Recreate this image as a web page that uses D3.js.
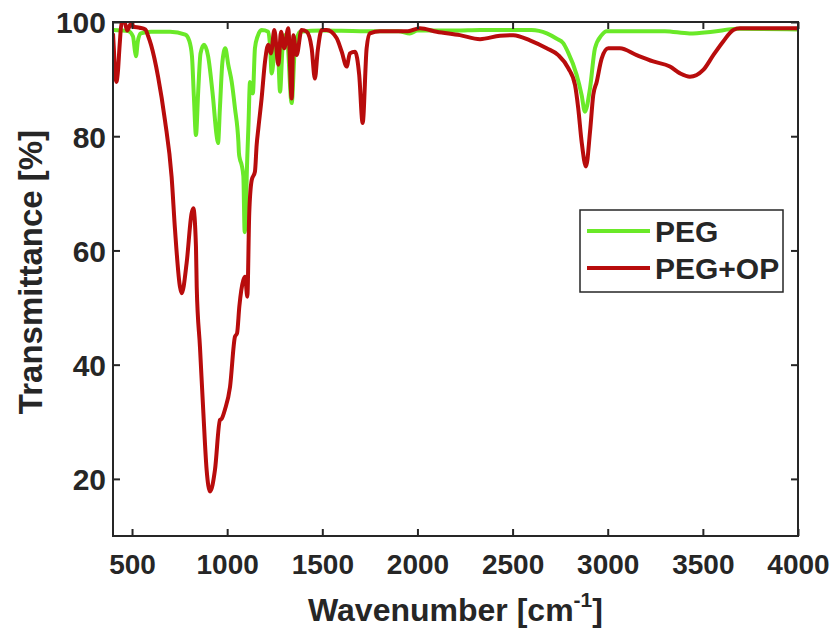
<!DOCTYPE html>
<html>
<head>
<meta charset="utf-8">
<script src="https://cdn.jsdelivr.net/npm/d3@7"></script>
<style>
  html, body { margin: 0; padding: 0; background: #fff; }
  svg { display: block; }
  text { font-family: "Liberation Sans", Arial, sans-serif; font-weight: bold; fill: #262626; }
</style>
</head>
<body>
<script>
// FTIR spectra: wavenumber (cm^-1) vs transmittance (%)
const pegWavenumber = [400, 480, 505, 515, 521, 530, 545, 600, 700, 780, 800, 815, 825, 836, 848, 860, 878, 900, 925, 945, 952, 962, 975, 990, 1006, 1024, 1041, 1059, 1062, 1067, 1076, 1085, 1092, 1098, 1103, 1112, 1120, 1128, 1135, 1146, 1160, 1181, 1216, 1225, 1234, 1251, 1265, 1278, 1290, 1300, 1315, 1339, 1356, 1383, 1500, 1700, 1900, 1960, 2000, 2200, 2330, 2600, 2680, 2730, 2766, 2790, 2837, 2863, 2880, 2907, 2933, 2968, 2994, 3300, 3430, 3550, 3680, 4000];
const pegTransmittance = [98.6, 98.4, 97.5, 95.0, 94.0, 96.5, 98.0, 98.3, 98.3, 97.8, 96.8, 94.0, 87.0, 80.2, 88.0, 94.5, 96.0, 94.0, 87.0, 80.0, 78.8, 85.0, 93.0, 95.4, 92.5, 89.5, 84.9, 79.0, 77.0, 76.0, 75.0, 73.0, 63.2, 66.0, 73.2, 82.0, 89.5, 88.0, 87.5, 95.4, 97.5, 98.6, 98.3, 96.0, 91.0, 95.4, 96.0, 87.8, 95.0, 97.7, 97.0, 85.8, 95.4, 98.3, 98.5, 98.4, 98.4, 98.0, 98.5, 98.5, 98.6, 98.6, 98.0, 97.1, 96.3, 94.8, 90.7, 87.2, 84.3, 88.4, 95.4, 97.7, 98.4, 98.4, 98.0, 98.3, 98.8, 98.7];

const pegOpWavenumber = [400, 405, 412, 418, 425, 435, 445, 460, 475, 490, 500, 505, 540, 570, 585, 600, 637, 673, 708, 726, 752, 761, 787, 813, 822, 836, 840, 857, 875, 892, 910, 936, 962, 971, 988, 1015, 1041, 1052, 1064, 1085, 1094, 1106, 1116, 1129, 1146, 1155, 1164, 1181, 1199, 1216, 1230, 1248, 1269, 1283, 1300, 1321, 1339, 1348, 1365, 1391, 1418, 1444, 1461, 1476, 1497, 1523, 1575, 1602, 1628, 1645, 1672, 1694, 1712, 1733, 1750, 1803, 1891, 1950, 2013, 2101, 2223, 2329, 2434, 2504, 2591, 2679, 2740, 2793, 2828, 2845, 2863, 2886, 2907, 2924, 2942, 2968, 3003, 3064, 3152, 3239, 3327, 3380, 3432, 3502, 3555, 3607, 3660, 3695, 3816, 4000];
const pegOpTransmittance = [98.0, 95.0, 90.5, 89.5, 91.0, 96.0, 99.8, 100.0, 98.5, 99.5, 100.0, 99.2, 99.0, 98.7, 97.5, 96.0, 90.4, 82.8, 72.9, 63.6, 53.6, 52.5, 57.8, 66.5, 67.4, 60.7, 53.6, 43.1, 31.5, 21.6, 17.8, 21.6, 30.3, 30.5, 32.1, 36.1, 44.9, 45.5, 50.2, 54.8, 55.4, 51.9, 66.5, 72.3, 73.8, 78.5, 81.4, 86.6, 93.1, 96.0, 94.5, 98.6, 92.5, 98.3, 95.4, 98.9, 86.6, 97.7, 94.2, 98.6, 98.3, 95.4, 90.1, 95.0, 98.6, 98.6, 97.2, 94.8, 92.2, 94.5, 94.8, 90.7, 82.3, 95.4, 98.0, 98.4, 98.4, 98.4, 98.9, 98.3, 97.7, 97.0, 97.6, 97.7, 96.8, 95.4, 94.2, 91.9, 89.0, 84.9, 79.0, 74.7, 80.8, 87.2, 89.5, 93.6, 95.4, 95.4, 94.2, 93.1, 92.2, 91.0, 90.4, 91.6, 94.2, 96.6, 98.6, 98.9, 98.9, 98.9];

const seriesNames = ["PEG", "PEG+OP"];
const seriesColors = ["#6ae928", "#b80c0c"];
const xTicks = [500, 1000, 1500, 2000, 2500, 3000, 3500, 4000];
const yTicks = [20, 40, 60, 80, 100];

const W = 835, H = 636;
const plot = { left: 113, right: 798, top: 22, bottom: 536 };

const svg = d3.select("body").append("svg").attr("width", W).attr("height", H);

const x = d3.scaleLinear().domain([400, 4000]).range([plot.left, plot.right]);
const y = d3.scaleLinear().domain([10, 100]).range([plot.bottom, plot.top]);

svg.append("defs").append("clipPath").attr("id", "plotClip")
  .append("rect")
  .attr("x", plot.left).attr("y", plot.top)
  .attr("width", plot.right - plot.left).attr("height", plot.bottom - plot.top);

const line = d3.line()
  .x(d => x(d[0]))
  .y(d => y(d[1]))
  .curve(d3.curveMonotoneX);

const series = [
  d3.zip(pegWavenumber, pegTransmittance),
  d3.zip(pegOpWavenumber, pegOpTransmittance)
];

const lines = svg.append("g").attr("clip-path", "url(#plotClip)");
series.forEach((s, i) => {
  lines.append("path")
    .datum(s)
    .attr("d", line)
    .attr("fill", "none")
    .attr("stroke", seriesColors[i])
    .attr("stroke-width", 4)
    .attr("stroke-linejoin", "round");
});

// Axes with inward ticks, mirrored on top and right
const tickLen = 7;
const axisColor = "#262626";
const fmt = d3.format("d");

const gx = svg.append("g").attr("transform", `translate(0,${plot.bottom})`)
  .call(d3.axisBottom(x).tickValues(xTicks).tickFormat(fmt).tickSize(-tickLen).tickPadding(18).tickSizeOuter(0));
const gxTop = svg.append("g").attr("transform", `translate(0,${plot.top})`)
  .call(d3.axisTop(x).tickValues(xTicks).tickSize(-tickLen).tickFormat("").tickSizeOuter(0));
const gy = svg.append("g").attr("transform", `translate(${plot.left},0)`)
  .call(d3.axisLeft(y).tickValues(yTicks).tickFormat(fmt).tickSize(-tickLen).tickPadding(7).tickSizeOuter(0));
const gyRight = svg.append("g").attr("transform", `translate(${plot.right},0)`)
  .call(d3.axisRight(y).tickValues(yTicks).tickSize(-tickLen).tickFormat("").tickSizeOuter(0));

[gx, gxTop, gy, gyRight].forEach(g => {
  g.select(".domain").remove();
  g.selectAll(".tick line").attr("stroke", axisColor).attr("stroke-width", 2);
});
gx.selectAll(".tick text").attr("font-size", 28).attr("font-family", "Liberation Sans, Arial, sans-serif").attr("font-weight", "bold").attr("fill", axisColor);
gy.selectAll(".tick text").attr("font-size", 30).attr("font-family", "Liberation Sans, Arial, sans-serif").attr("font-weight", "bold").attr("fill", axisColor).attr("dy", "0.36em");

// frame
svg.append("rect")
  .attr("x", plot.left).attr("y", plot.top)
  .attr("width", plot.right - plot.left).attr("height", plot.bottom - plot.top)
  .attr("fill", "none").attr("stroke", axisColor).attr("stroke-width", 2);

// axis titles
const xt = svg.append("text")
  .attr("x", (plot.left + plot.right) / 2).attr("y", 621)
  .attr("text-anchor", "middle").attr("font-size", 32);
xt.append("tspan").text("Wavenumber [cm");
xt.append("tspan").attr("font-size", 21).attr("dy", -14).text("-1");
xt.append("tspan").attr("dy", 14).text("]");

svg.append("text")
  .attr("transform", `translate(42,272) rotate(-90)`)
  .attr("text-anchor", "middle").attr("font-size", 33)
  .text("Transmittance [%]");

// legend
const legend = svg.append("g");
legend.append("rect")
  .attr("x", 580).attr("y", 210).attr("width", 203).attr("height", 82)
  .attr("fill", "#fff").attr("stroke", axisColor).attr("stroke-width", 1.5);
seriesNames.forEach((name, i) => {
  const ly = 231 + i * 37;
  legend.append("line")
    .attr("x1", 587).attr("x2", 650).attr("y1", ly).attr("y2", ly)
    .attr("stroke", seriesColors[i]).attr("stroke-width", 4);
  legend.append("text")
    .attr("x", 655).attr("y", ly).attr("dy", "0.36em")
    .attr("font-size", 30).attr("fill", "#000")
    .text(name);
});
</script>
</body>
</html>
